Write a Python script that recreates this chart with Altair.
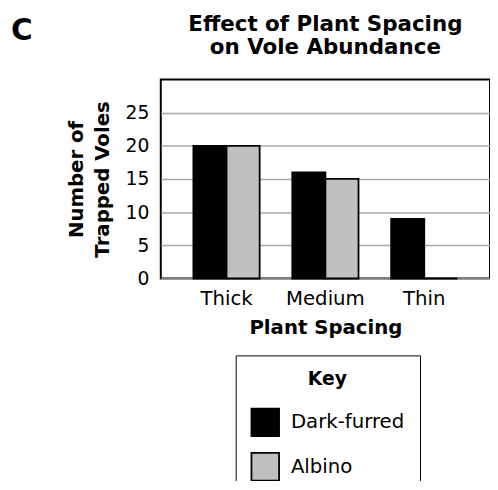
import altair as alt
import pandas as pd

spacing = ["Thick", "Medium", "Thin"]
fur_types = ["Dark-furred", "Albino"]
dark_furred = [20, 16, 9]
albino = [20, 15, 0]
y_ticks = [0, 5, 10, 15, 20, 25]
fills = ["#000000", "#c0c0c0"]

rows = []
for s, d, a in zip(spacing, dark_furred, albino):
    rows.append({"Spacing": s, "Fur": "Dark-furred", "Voles": d})
    rows.append({"Spacing": s, "Fur": "Albino", "Voles": a})
df = pd.DataFrame(rows)

FONT = "DejaVu Sans"

bars = alt.Chart(df).mark_bar(stroke="black", strokeWidth=1.8).encode(
    x=alt.X(
        "Spacing:N",
        sort=spacing,
        scale=alt.Scale(paddingInner=0.33, paddingOuter=0.33),
        axis=alt.Axis(
            title="Plant Spacing", labelAngle=0, ticks=False, domain=False, grid=False,
            labelFontSize=20, labelPadding=10, labelColor="black", labelFont=FONT,
            titleFontSize=20, titleFontWeight="bold", titlePadding=10, titleColor="black", titleFont=FONT,
        ),
    ),
    xOffset=alt.XOffset("Fur:N", sort=fur_types, scale=alt.Scale(paddingInner=0, paddingOuter=0)),
    y=alt.Y(
        "Voles:Q",
        scale=alt.Scale(domain=[0, 30], nice=False),
        axis=alt.Axis(
            values=y_ticks, title=["Number of", "Trapped Voles"], ticks=False, domain=False,
            grid=True, gridColor="#a8a8a8", gridWidth=1.5,
            labelFontSize=19, labelPadding=12, labelColor="black", labelFont=FONT,
            titleFontSize=20, titleFontWeight="bold", titleLineHeight=26, titlePadding=13,
            titleColor="black", titleFont=FONT,
        ),
    ),
    color=alt.Color(
        "Fur:N",
        sort=fur_types,
        scale=alt.Scale(domain=fur_types, range=fills),
        legend=alt.Legend(
            title="Key", orient="none", legendX=76, legendY=280, direction="vertical",
            symbolType="square", symbolSize=784, symbolStrokeColor="black", symbolStrokeWidth=1.8,
            labelFontSize=20, labelOffset=11, labelFont=FONT, labelColor="black",
            titleFontSize=19, titleFontWeight="bold", titleFont=FONT, titleColor="black",
            titleAnchor="middle", titleAlign="center", titlePadding=19,
            padding=15, strokeColor="black", fillColor="white", rowPadding=9,
        ),
    ),
)

panel = ["C"]
label = alt.Chart(pd.DataFrame({"panel": panel})).mark_text(
    font=FONT, fontSize=30, fontWeight="bold", align="left", baseline="alphabetic", color="black"
).encode(text="panel:N", x=alt.value(-152), y=alt.value(-40))

chart = alt.layer(bars, label).properties(
    width=334,
    height=202,
    title=alt.TitleParams(
        ["Effect of Plant Spacing", "on Vole Abundance"],
        fontSize=21.7, fontWeight="bold", font=FONT, color="black",
        anchor="middle", lineHeight=23, offset=-43,
    ),
    autosize=alt.AutoSizeParams(type="none"),
    padding={"left": 155, "top": 69, "right": 0, "bottom": 202},
).configure_view(stroke="black", strokeWidth=2)

chart.save("out.html", embed_options={"renderer": "svg", "actions": False})
